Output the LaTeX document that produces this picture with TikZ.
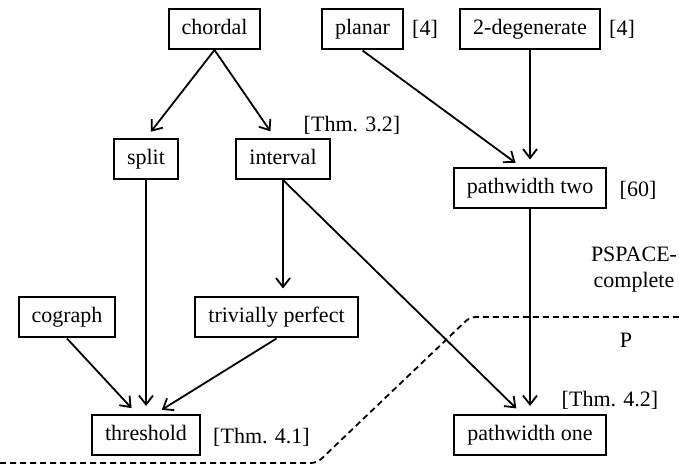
\documentclass[tikz,border=0pt]{standalone}
\usepackage{fontspec}
\setmainfont{Liberation Serif}
\usetikzlibrary{arrows.meta}

\begin{document}
\begin{tikzpicture}[x=0.5pt,y=-0.5pt]
        \tikzset{class/.style={draw,line width=1pt,minimum height=20pt,inner xsep=6.5pt,text height=7.6pt,text depth=2.4pt,font=\fontsize{11}{13}\selectfont},
                 cite/.style={font=\fontsize{11}{13}\selectfont,align=center},
                 imp/.style={line width=0.9pt,-{Straight Barb[length=4.5pt,width=7pt]},shorten >=4pt}};
        \useasboundingbox (0,0) rectangle (679,475);
        % graph classes
        \node[class] (chordal) at (214.5,29) {chordal};
        \node[class] (planar) at (362.5,29.5) {planar};
        \node[class] (degen) at (530,29.5) {2-degenerate};
        \node[class] (split) at (146,159) {split};
        \node[class] (interval) at (283,159) {interval};
        \node[class] (pwtwo) at (530,188.5) {pathwidth two};
        \node[class] (cograph) at (67,317.5) {cograph};
        \node[class] (trivperf) at (276.5,317.5) {trivially perfect};
        \node[class] (threshold) at (146,435) {threshold};
        \node[class] (pwone) at (530,435) {pathwidth one};
        % references
        \node[cite] (citeplanar) at (425,29) {[4]};
        \node[cite] (citedegen) at (622,29) {[4]};
        \node[cite] (thmint) at (352,125) {[Thm. 3.2]};
        \node[cite] (citepwtwo) at (638,190) {[60]};
        \node[cite] (thmpwone) at (610,400) {[Thm. 4.2]};
        \node[cite] (thmthr) at (261.5,437) {[Thm. 4.1]};
        \node[cite] (pspace) at (634,270) {PSPACE-\\complete};
        \node[cite] (poly) at (626,340) {P};
        % inclusions
        \draw[imp] (chordal.south) -- (split.north);
        \draw[imp] (chordal.south) -- ([xshift=-4pt]interval.north);
        \draw[imp] (planar.south) -- ([xshift=-4pt]pwtwo.north);
        \draw[imp] (degen.south) -- (pwtwo.north);
        \draw[imp] (interval.south) -- (trivperf.north -| interval.south);
        \draw[imp] (interval.south) -- ([xshift=-4pt]pwone.north);
        \draw[imp] (pwtwo.south) -- (pwone.north);
        \draw[imp] (split.south) -- (threshold.north);
        \draw[imp] (cograph.south) -- ([xshift=-4.5pt]threshold.north);
        \draw[imp] (trivperf.south) -- ([xshift=4.5pt]threshold.north);
        % complexity border
        \draw[line width=0.9pt,dash pattern=on 3pt off 2pt,rounded corners=3pt] (0,463) -- (317,463) -- (470,317) -- (679,317);
    \end{tikzpicture}
\end{document}
